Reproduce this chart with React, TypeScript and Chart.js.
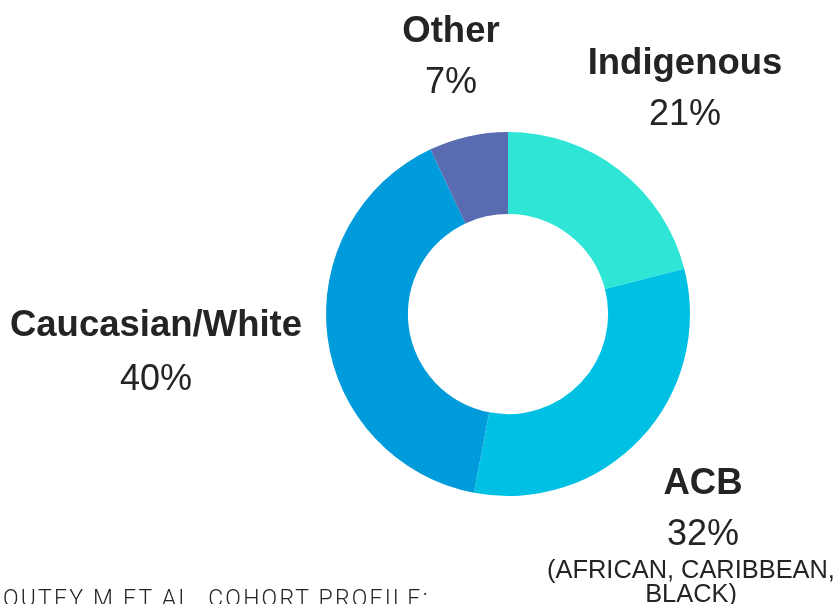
import React, { useEffect, useRef } from "react";
import { Chart, registerables } from "chart.js";

Chart.register(...registerables);

const categories = ["Indigenous", "ACB", "Caucasian/White", "Other"];
const shares = [21, 32, 40, 7];
const sliceColors = ["#2FE6D6", "#00C1E3", "#009BDA", "#5A6CB1"];
const percentLabels = shares.map((v) => `${v}%`);
const acbNote = ["(AFRICAN, CARIBBEAN,", "BLACK)"];
const footnote = "OUTEY M ET AL. COHORT PROFILE:";

// label layout: centre x, name baseline, percent baseline
const labelLayout = [
  { x: 685, nameY: 75, pctY: 125 },
  { x: 703, nameY: 495, pctY: 545 },
  { x: 156, nameY: 337, pctY: 390 },
  { x: 451, nameY: 43, pctY: 93 },
];
const noteLayout = { x: 691, baselines: [579, 603] };

const SANS = '"Liberation Sans", Arial, sans-serif';
const TEXT = "#242424";

function Label(props: { text: string; x: number; baseline: number; size: number; weight?: number; family?: string; ascentRatio?: number; spacing?: number; align?: "center" | "left" }) {
  const { text, x, baseline, size, weight = 400, family = SANS, ascentRatio = 0.8465, spacing = 0, align = "center" } = props;
  const w = 500;
  const style: React.CSSProperties = {
    position: "absolute",
    top: baseline - ascentRatio * size,
    left: align === "center" ? x - w / 2 : x,
    width: align === "center" ? w : undefined,
    textAlign: align,
    fontFamily: family,
    fontSize: size,
    lineHeight: `${size}px`,
    fontWeight: weight,
    color: TEXT,
    whiteSpace: "nowrap",
    letterSpacing: spacing ? `${spacing}px` : undefined,
  };
  return <div style={style}>{text}</div>;
}

export default function App() {
  const ref = useRef<HTMLCanvasElement | null>(null);

  useEffect(() => {
    document.body.style.margin = "0";
    if (!ref.current) return;
    const chart = new Chart(ref.current, {
      type: "doughnut",
      data: {
        labels: categories,
        datasets: [
          {
            data: shares,
            backgroundColor: sliceColors,
            borderWidth: 0,
          },
        ],
      },
      options: {
        animation: false,
        responsive: false,
        maintainAspectRatio: false,
        devicePixelRatio: 1,
        cutout: "55%",
        layout: { padding: { left: 326, right: 150, top: 132, bottom: 108 } },
        plugins: {
          legend: { display: false },
          tooltip: { enabled: false },
        },
      },
    });
    return () => chart.destroy();
  }, []);

  return (
    <div style={{ position: "fixed", left: 0, top: 0, width: 840, height: 604, overflow: "hidden", background: "#ffffff" }}>
      <canvas ref={ref} width={840} height={604} style={{ position: "absolute", left: 0, top: 0, width: 840, height: 604 }} />
      {categories.map((c, i) => (
        <React.Fragment key={c}>
          <Label text={c} x={labelLayout[i].x} baseline={labelLayout[i].nameY} size={36.5} weight={700} />
          <Label text={percentLabels[i]} x={labelLayout[i].x} baseline={labelLayout[i].pctY} size={36} />
        </React.Fragment>
      ))}
      {acbNote.map((t, i) => (
        <Label key={t} text={t} x={noteLayout.x} baseline={noteLayout.baselines[i]} size={25.4} />
      ))}
      <Label text={footnote} x={3} baseline={606} size={23} weight={300} family='Roboto, sans-serif' ascentRatio={0.8418} spacing={2.2} align="left" />
    </div>
  );
}
